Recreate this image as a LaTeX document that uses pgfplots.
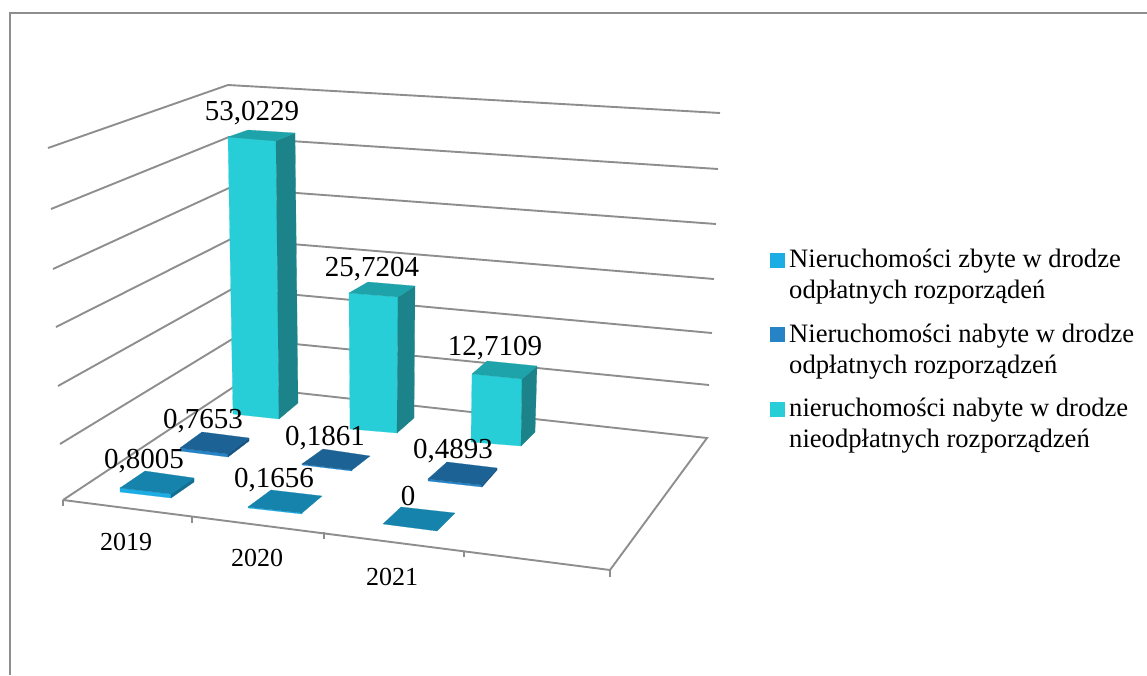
\documentclass[border=0pt]{standalone}
\usepackage{fontspec}
\setmainfont{Liberation Serif}
\usepackage{pgfplots}
\pgfplotsset{compat=1.18}
\definecolor{gridc}{HTML}{8E8E8E}
\definecolor{frontC}{HTML}{27CED7}
\definecolor{topC}{HTML}{1FA3AA}
\definecolor{sideC}{HTML}{1B8389}
\definecolor{frontB}{HTML}{2683C6}
\definecolor{topB}{HTML}{1C6295}
\definecolor{sideB}{HTML}{175280}
\definecolor{frontL}{HTML}{1CADE4}
\definecolor{topL}{HTML}{1583AB}
\definecolor{sideL}{HTML}{126F92}
\pgfplotsset{
  gl/.style={draw=gridc,line width=1.9pt,mark=none,forget plot},
  tk/.style={draw=gridc,line width=1.2pt,mark=none,forget plot},
  face/.style={fill=#1,draw=#1,line width=0.2pt,mark=none,forget plot},
}
\tikzset{
  dl/.style={anchor=base,font=\fontsize{29}{29}\selectfont,inner sep=0pt},
  yl/.style={anchor=base,font=\fontsize{26}{26}\selectfont,inner sep=0pt},
  lg/.style={anchor=base west,font=\fontsize{26.6}{26.6}\selectfont,inner sep=0pt},
}
\begin{document}
\begin{tikzpicture}
\begin{axis}[
  hide axis, scale only axis, width=1147pt, height=675pt,
  xmin=0, xmax=1147, ymin=0, ymax=675, y dir=reverse,
]
% outer frame
\addplot[gl] coordinates {(10,675)(10,13)(1147,13)};
% side wall and back wall grid
\addplot[gl] coordinates {(48,148)(228,85)(720,113)};
\addplot[gl] coordinates {(51,209)(229,137)(718,169)};
\addplot[gl] coordinates {(53,269)(229,188)(716,224)};
\addplot[gl] coordinates {(56,327)(231,239)(714,279)};
\addplot[gl] coordinates {(58,386)(232,289)(712,333)};
\addplot[gl] coordinates {(60,444)(234,338)(709,385)};
% floor
\addplot[gl] coordinates {(63,500)(235,386)(707,438)(610,570)(63,500)};
% ticks
\addplot[tk] coordinates {(63,500)(63,506)};
\addplot[tk] coordinates {(192,516)(192,523)};
\addplot[tk] coordinates {(324,532)(324,539)};
\addplot[tk] coordinates {(464,551)(464,557)};
\addplot[tk] coordinates {(610,570)(610,577)};
% series 3: cyan columns
\addplot[face=frontC] coordinates {(228,137)(276,141)(279,419)(233,414)} --cycle;
\addplot[face=sideC] coordinates {(276,141)(295,133)(298,403)(279,419)} --cycle;
\addplot[face=topC] coordinates {(228,137)(248,130)(295,133)(276,141)} --cycle;
\addplot[face=frontC] coordinates {(349,293)(398,297)(397,433)(350,429)} --cycle;
\addplot[face=sideC] coordinates {(398,297)(415,286)(414,418)(397,433)} --cycle;
\addplot[face=topC] coordinates {(349,293)(368,282)(415,286)(398,297)} --cycle;
\addplot[face=frontC] coordinates {(472,374)(522,379)(521,446)(471,442)} --cycle;
\addplot[face=sideC] coordinates {(522,379)(537,366)(535,432)(521,446)} --cycle;
\addplot[face=topC] coordinates {(472,374)(487,361)(537,366)(522,379)} --cycle;
% series 2: blue flat columns
\addplot[face=frontB] coordinates {(180,448)(228,454)(228,457)(180,451)} --cycle;
\addplot[face=sideB] coordinates {(228,454)(249,438)(249,441)(228,457)} --cycle;
\addplot[face=topB] coordinates {(180,448)(202,432)(249,438)(228,454)} --cycle;
\addplot[face=frontB] coordinates {(302,464)(352,470)(352,471)(302,465)} --cycle;
\addplot[face=topB] coordinates {(302,464)(323,449)(370,456)(352,470)} --cycle;
\addplot[face=frontB] coordinates {(428,479)(482,485)(482,487)(428,481)} --cycle;
\addplot[face=sideB] coordinates {(482,485)(497,468)(497,470)(482,487)} --cycle;
\addplot[face=topB] coordinates {(428,479)(447,462)(497,468)(482,485)} --cycle;
% series 1: light blue flat columns
\addplot[face=frontL] coordinates {(120,488)(171,494)(171,498)(120,492)} --cycle;
\addplot[face=sideL] coordinates {(171,494)(194,478)(194,482)(171,498)} --cycle;
\addplot[face=topL] coordinates {(120,488)(145,471)(194,478)(171,494)} --cycle;
\addplot[face=frontL] coordinates {(248,507)(302,513)(302,514)(248,508)} --cycle;
\addplot[face=topL] coordinates {(248,507)(271,490)(322,496)(302,513)} --cycle;
\addplot[face=topL] coordinates {(383,524)(401,507)(455,513)(437,531)} --cycle;
% data labels
\node[dl] at (axis cs:252,120) {53,0229};
\node[dl] at (axis cs:372,276) {25,7204};
\node[dl] at (axis cs:495,355) {12,7109};
\node[dl] at (axis cs:203,428) {0,7653};
\node[dl] at (axis cs:325,445) {0,1861};
\node[dl] at (axis cs:453,458) {0,4893};
\node[dl] at (axis cs:144,468) {0,8005};
\node[dl] at (axis cs:274,487) {0,1656};
\node[dl] at (axis cs:408,505) {0};
% category labels
\node[yl] at (axis cs:126,550) {2019};
\node[yl] at (axis cs:257,566) {2020};
\node[yl] at (axis cs:392,585) {2021};
% legend
\addplot[face=frontL] coordinates {(770,253)(784,253)(784,267)(770,267)} --cycle;
\addplot[face=frontB] coordinates {(770,327)(784,327)(784,341)(770,341)} --cycle;
\addplot[face=frontC] coordinates {(770,402)(784,402)(784,416)(770,416)} --cycle;
\node[lg] at (axis cs:789,267) {Nieruchomości zbyte w drodze};
\node[lg] at (axis cs:789,298) {odpłatnych rozporządeń};
\node[lg] at (axis cs:789,342) {Nieruchomości nabyte w drodze};
\node[lg] at (axis cs:789,373) {odpłatnych rozporządzeń};
\node[lg] at (axis cs:789,416) {nieruchomości nabyte w drodze};
\node[lg] at (axis cs:789,447) {nieodpłatnych rozporządzeń};
\end{axis}
\useasboundingbox (0,0) rectangle (1147pt,675pt);
\end{tikzpicture}
\end{document}
